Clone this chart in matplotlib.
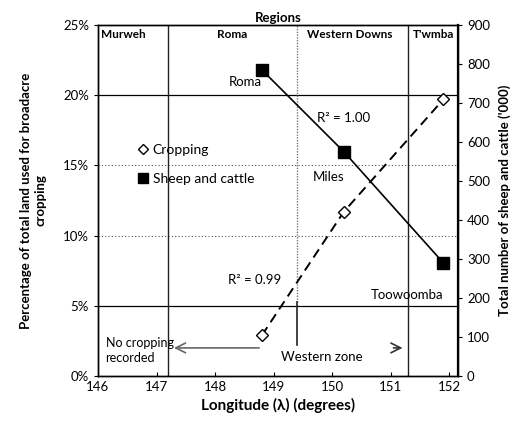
import matplotlib.pyplot as plt
from matplotlib.lines import Line2D

plt.rcParams['font.family'] = ['Lato', 'DejaVu Sans']

# cropping share (% of land) and livestock ('000 head) by longitude
crop_lon = [148.8, 150.2, 151.9]
crop_pct = [2.9, 11.7, 19.7]
stock_lon = [148.8, 150.2, 151.9]
stock_head = [785, 575, 290]
stock_towns = ['Roma', 'Miles', 'Toowoomba']

region_names = ['Murweh', 'Roma', 'Western Downs', "T'wmba"]
region_label_x = [146.43, 148.3, 150.3, 151.73]
region_bounds = [147.2, 149.4, 151.3]

pct_ticks = [0, 5, 10, 15, 20, 25]
stock_ticks = list(range(0, 1000, 100))
lon_ticks = [146, 147, 148, 149, 150, 151, 152]

fig = plt.figure(figsize=(5.22, 4.28), dpi=100)
ax = fig.add_axes([0.1877, 0.1215, 0.6897, 0.8201])
ax2 = ax.twinx()

ax.set_xlim(146, 152.15)
ax.set_ylim(0, 25)
ax2.set_ylim(0, 900)

# horizontal guide lines
for p in pct_ticks[1:-1]:
    if p in (5, 20):
        ax.axhline(p, color='black', lw=0.9, zorder=1)
    else:
        ax.axhline(p, color='#555555', lw=0.8, ls=(0, (1, 2)), zorder=1)

# region boundaries
ax.axvline(region_bounds[0], color='#222222', lw=1.0, zorder=1)
ax.axvline(region_bounds[1], ymin=0.21, ymax=1, color='#777777', lw=1.0,
           ls=(0, (1, 1)), zorder=1)
ax.axvline(region_bounds[1], ymin=0.088, ymax=0.21, color='#222222', lw=1.2, zorder=1)
ax.axvline(region_bounds[2], color='#222222', lw=1.0, zorder=1)

for name, x in zip(region_names, region_label_x):
    ax.text(x, 0.972, name, transform=ax.get_xaxis_transform(), ha='center',
            va='center', fontsize=8.5, fontweight='bold')
ax.set_title('Regions', fontsize=9.5, fontweight='bold', pad=2)

# cropping series
ax.plot(crop_lon, crop_pct, color='black', lw=1.4, ls=(0, (5, 3)), marker='D',
        markersize=6.5, markerfacecolor='white', markeredgecolor='black',
        markeredgewidth=1.0, zorder=3)

# livestock series
ax2.plot(stock_lon, stock_head, color='black', lw=1.2, marker='s', markersize=9,
         markerfacecolor='black', zorder=3)
offsets = [(-17, -12), (-15, -25), (-36, -32)]
for x, y, name, off in zip(stock_lon, stock_head, stock_towns, offsets):
    ax2.annotate(name, (x, y), xytext=off, textcoords='offset pixels',
                 ha='center', va='center', fontsize=9.5)

ax.text(150.19, 18.4, 'R² = 1.00', ha='center', va='center', fontsize=9.5)
ax.text(148.68, 6.85, 'R² = 0.99', ha='center', va='center', fontsize=9.5)

# western zone arrows
ax.annotate('', xy=(147.25, 2.0), xytext=(148.8, 2.0),
            arrowprops=dict(arrowstyle='->,head_length=0.7,head_width=0.35',
                            color='#666666', lw=1.2))
ax.annotate('', xy=(151.25, 2.0), xytext=(151.0, 2.0),
            arrowprops=dict(arrowstyle='->,head_length=0.7,head_width=0.35',
                            color='#333333', lw=1.2))
ax.text(146.13, 1.8, 'No cropping\nrecorded', ha='left', va='center',
        fontsize=9, linespacing=1.3)
ax.text(149.83, 1.35, 'Western zone', ha='center', va='center', fontsize=9.5)

# legend
handles = [
    Line2D([], [], ls='none', marker='D', markersize=5.5, markerfacecolor='white',
           markeredgecolor='black'),
    Line2D([], [], ls='none', marker='s', markersize=6.5, markerfacecolor='black',
           markeredgecolor='black'),
]
ax2.legend(handles, ['Cropping', 'Sheep and cattle'], loc='upper left',
           bbox_to_anchor=(0.09, 0.68), frameon=False, fontsize=10,
           handlelength=0.8, handletextpad=0.3, labelspacing=1.2, borderpad=0)

ax.set_xticks(lon_ticks)
ax.set_yticks(pct_ticks)
ax.set_yticklabels([f'{p}%' for p in pct_ticks])
ax2.set_yticks(stock_ticks)
ax.tick_params(axis='x', direction='in', length=3, labelsize=9.5)
ax.tick_params(axis='y', direction='out', length=3, labelsize=9.5)
ax2.tick_params(axis='y', direction='out', length=3, labelsize=9.5)

ax.set_xlabel('Longitude (λ) (degrees)', fontsize=11, fontweight='bold', labelpad=4)
ax.set_ylabel('Percentage of total land used for broadacre\ncropping',
              fontsize=9.5, fontweight='bold', labelpad=12)
ax2.set_ylabel("Total number of sheep and cattle ('000)", fontsize=9.5,
               fontweight='bold', labelpad=6)

for a in (ax, ax2):
    for s in a.spines.values():
        s.set_linewidth(1.0)
ax2.spines['right'].set_linewidth(1.6)

fig.savefig('out.png', dpi=100)
